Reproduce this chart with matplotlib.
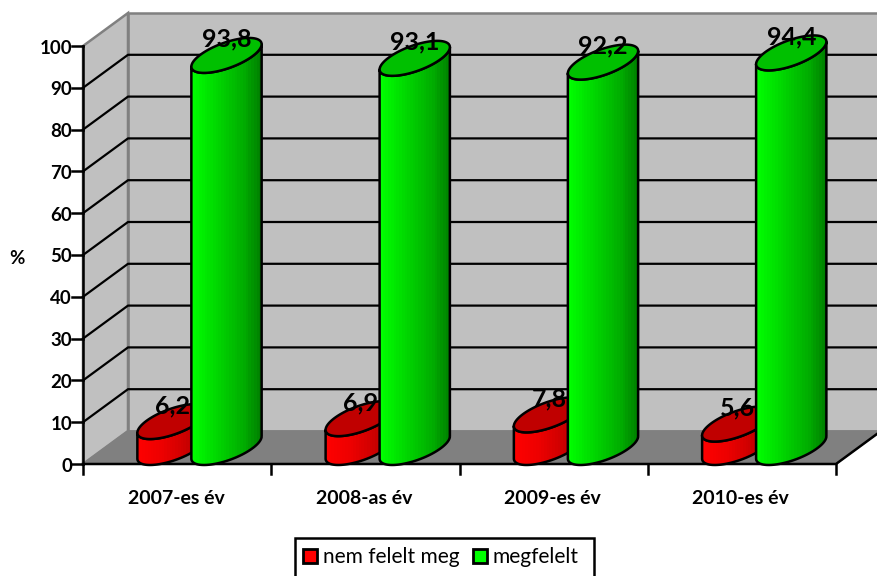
import numpy as np
import matplotlib
matplotlib.use('Agg')
import matplotlib.pyplot as plt
from matplotlib.patches import PathPatch, Polygon, Rectangle
from matplotlib.path import Path

# Data
categories = ['2007-es év', '2008-as év', '2009-es év', '2010-es év']
nem_felelt = [6.2, 6.9, 7.8, 5.6]
megfelelt = [93.8, 93.1, 92.2, 94.4]
y_ticks = [0, 10, 20, 30, 40, 50, 60, 70, 80, 90, 100]
series_names = ['nem felelt meg', 'megfelelt']

plt.rcParams['font.family'] = ['Lato', 'DejaVu Sans']

# chart geometry in pixels
X0, X1, Y0, Y100 = 83, 836, 464, 46
DX, DY = 45, -33
CAT_W = (X1 - X0) / len(categories)
BAR_A = 27
BAR_B = 1.06  # ellipse a bit fuller than the depth
GAP = 40


def yp(v):
    return Y0 + (Y100 - Y0) * v / 100


def ellipse(cx, cy, t):
    return (cx + DX / 2 + BAR_A * np.cos(t) + DX / 2 * np.sin(t),
            cy + DY / 2 + BAR_B * DY / 2 * np.sin(t))


def cylinder(ax, cx, value, stops, top_color, z):
    t0 = np.arctan2(DX / 2, BAR_A)
    t = np.linspace(t0, t0 - np.pi, 60)
    bx, by = ellipse(cx, Y0, t)
    tx, ty = ellipse(cx, yp(value), t[::-1])
    body = np.column_stack([np.r_[bx, tx], np.r_[by, ty]])

    # shaded side, in narrow strips
    strips = np.linspace(0, 1, 26)
    rgb = np.array([[np.interp(s, stops[0], [c[i] for c in stops[1]]) for i in range(3)] for s in strips])
    im = ax.imshow(rgb[np.newaxis, :, :], extent=(body[:, 0].min(), body[:, 0].max(), by.max(), ty.min()),
                   aspect='auto', interpolation='nearest', zorder=z)
    patch = PathPatch(Path(np.vstack([body, body[0]])), fc='none', ec='black', lw=1.8, zorder=z + 0.1,
                      joinstyle='round')
    ax.add_patch(patch)
    im.set_clip_path(patch)

    a = np.linspace(0, 2 * np.pi, 100)
    ex, ey = ellipse(cx, yp(value), a)
    ax.add_patch(Polygon(np.column_stack([ex, ey]), closed=True, fc=top_color, ec='black', lw=1.8, zorder=z + 0.2))


fig = plt.figure(figsize=(8.77, 5.76), dpi=100)
ax = fig.add_axes([0, 0, 1, 1])

# Walls and floor
ax.add_patch(Polygon([(X0 + DX, Y100 + DY), (X1 + DX, Y100 + DY), (X1 + DX, Y0 + DY), (X0 + DX, Y0 + DY)],
                     fc='#C0C0C0', ec='#808080', lw=1.8, zorder=1))
ax.add_patch(Polygon([(X0, Y100), (X0 + DX, Y100 + DY), (X0 + DX, Y0 + DY), (X0, Y0)],
                     fc='#C0C0C0', ec='#808080', lw=1.8, zorder=1))
ax.add_patch(Polygon([(X0, Y0), (X0 + DX, Y0 + DY), (X1 + DX, Y0 + DY), (X1, Y0)],
                     fc='#808080', ec='#808080', lw=1, zorder=1.5))

# Grid
for v in y_ticks[1:-1]:
    ax.plot([X0, X0 + DX, X1 + DX], [yp(v), yp(v) + DY, yp(v) + DY], color='black', lw=1.6, zorder=2)

# Axes lines, ticks
ax.plot([X0, X0], [Y100, Y0], color='black', lw=1.8, zorder=3)
ax.plot([X0, X1, X1 + DX], [Y0, Y0, Y0 + DY], color='black', lw=1.8, zorder=3)
for v in y_ticks:
    ax.plot([X0 - 11, X0], [yp(v), yp(v)], color='black', lw=1.8, zorder=3)
    ax.text(X0 - 11, yp(v) + 2, str(v), ha='right', va='center', fontsize=13.5, fontweight='bold', zorder=30)
for i in range(len(categories) + 1):
    xt = X0 + i * CAT_W
    ax.plot([xt, xt], [Y0, Y0 + 10], color='black', lw=1.8, zorder=3)
ax.text(17, 259, '%', ha='center', va='center', fontsize=13.5, fontweight='bold')

# Cylinders
red_stops = ([0, 0.35, 0.7, 1], [(1, 0, 0), (0.93, 0, 0), (0.8, 0, 0), (0.62, 0, 0)])
green_stops = ([0, 0.3, 0.75, 1], [(0, 1, 0), (0, 0.87, 0), (0, 0.68, 0), (0, 0.5, 0)])
for i, cat in enumerate(categories):
    left = X0 + i * CAT_W + GAP
    red_x = left + BAR_A
    green_x = left + 3 * BAR_A
    cylinder(ax, red_x, nem_felelt[i], red_stops, '#C00000', 4 + i)
    cylinder(ax, green_x, megfelelt[i], green_stops, '#00C000', 4.5 + i)
    ax.text(red_x + DX / 2, yp(nem_felelt[i]) + DY / 2 - 16, f'{nem_felelt[i]:.1f}'.replace('.', ','),
            ha='center', va='center', fontsize=18, fontweight='bold', color='black', zorder=30)
    ax.text(green_x + DX / 2, yp(megfelelt[i]) + DY / 2 - 16, f'{megfelelt[i]:.1f}'.replace('.', ','),
            ha='center', va='center', fontsize=18, fontweight='bold', color='black', zorder=30)
    ax.text(X0 + (i + 0.5) * CAT_W - 1, 498, cat, ha='center', va='center', fontsize=14, fontweight='bold')

# Legend
ax.add_patch(Rectangle((294.5, 537.5), 299, 40, fc='white', ec='black', lw=1.8, zorder=20))
ax.add_patch(Rectangle((302.5, 548.5), 14, 14, fc='#FF0000', ec='black', lw=2, zorder=21))
ax.text(323, 557, series_names[0], ha='left', va='center', fontsize=15, zorder=21)
ax.add_patch(Rectangle((472.5, 548.5), 14, 14, fc='#00FF00', ec='black', lw=2, zorder=21))
ax.text(493, 557, series_names[1], ha='left', va='center', fontsize=15, zorder=21)

ax.set_xlim(0, 877)
ax.set_ylim(576, 0)
ax.axis('off')

plt.savefig('out.png', dpi=100)
